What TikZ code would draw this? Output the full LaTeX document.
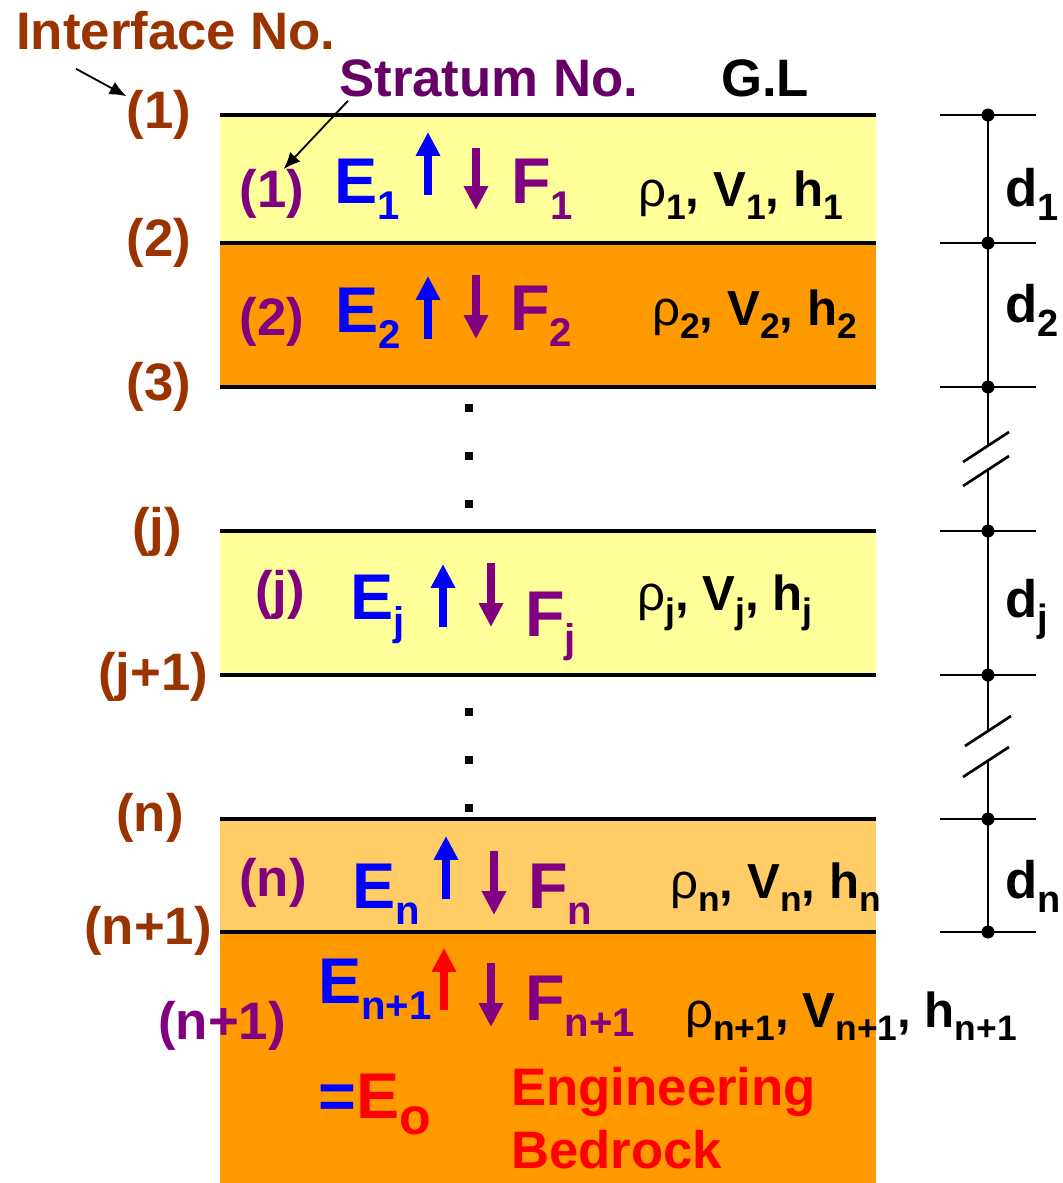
\documentclass[tikz,border=0pt]{standalone}
\usepackage{fontspec}
\setmainfont{Liberation Sans}
\usepackage{graphicx}
\usetikzlibrary{arrows.meta}

\definecolor{ifbrown}{HTML}{993300}
\definecolor{stpurple}{HTML}{800080}
\definecolor{hdpurple}{HTML}{660066}
\definecolor{soilyel}{HTML}{FFFF99}
\definecolor{soilorg}{HTML}{FF9900}
\definecolor{soillt}{HTML}{FFCC66}

% lowered indices: big E/F, and the property row
\newcommand{\lo}[1]{\raisebox{-.25em}{\scalebox{.62}{#1}}}
\newcommand{\lp}[1]{\raisebox{-.28em}{\scalebox{.72}{#1}}}
\newcommand{\rh}{{\mdseries ρ}}

\begin{document}
\begin{tikzpicture}[
  x=0.025cm, y=-0.025cm,
  lbl/.style={inner sep=0pt, font=\fontsize{37.5}{40}\selectfont\bfseries},
  iflbl/.style={lbl, text=ifbrown},
  stlbl/.style={lbl, text=stpurple},
  ef/.style={inner sep=0pt, anchor=base west, font=\fontsize{46}{50}\selectfont\bfseries},
  prop/.style={inner sep=0pt, anchor=base west, font=\fontsize{35}{40}\selectfont\bfseries},
  iface/.style={line width=2.5pt},
  tick/.style={line width=1.9pt},
  uparr/.style={line width=5.3pt, -{Triangle[width=16.4pt,length=17pt]}, blue},
  dnarr/.style={uparr, stpurple},
  ptr/.style={line width=1.3pt, -{Latex[length=12pt,width=10pt]}}
]
  \useasboundingbox (0,0) rectangle (1063,1183);

  % strata
  \fill[soilyel] (220,115) rectangle (876,243);
  \fill[soilorg] (220,243) rectangle (876,387);
  \fill[soilyel] (220,531) rectangle (876,675);
  \fill[soillt] (220,819) rectangle (876,932);
  \fill[soilorg] (220,932) rectangle (876,1183);
  \draw[iface] (220,115) -- (876,115) (220,243) -- (876,243) (220,387) -- (876,387)
    (220,531) -- (876,531) (220,675) -- (876,675) (220,819) -- (876,819) (220,932) -- (876,932);

  % vertical dots
  \fill (465,404) rectangle +(8,8);
  \fill (465,452) rectangle +(8,8);
  \fill (465,500) rectangle +(8,8);
  \fill (465,708) rectangle +(8,8);
  \fill (465,756) rectangle +(8,8);
  \fill (465,804) rectangle +(8,8);

  % depth scale
  \draw[tick] (940,115) -- (1036,115) (940,243) -- (1036,243) (940,387) -- (1036,387)
    (940,531) -- (1036,531) (940,675) -- (1036,675) (940,819) -- (1036,819) (940,932) -- (1036,932);
  \draw[tick] (988,115) -- (988,447) (988,471) -- (988,731) (988,762) -- (988,932);
  \draw[tick] (963,462) -- (1009,432) (963,486) -- (1009,456)
    (965,746) -- (1011,716) (963,777) -- (1009,747);
  \fill (988,115) circle (6.5) (988,243) circle (6.5) (988,387) circle (6.5)
    (988,531) circle (6.5) (988,675) circle (6.5) (988,819) circle (6.5) (988,932) circle (6.5);
  \node[lbl, anchor=base west] (d1) at (1005,206) {d\lp{1}};
  \node[lbl, anchor=base west] (d2) at (1005,322) {d\lp{2}};
  \node[lbl, anchor=base west] (dj) at (1005,617) {d\lp{j}};
  \node[lbl, anchor=base west] (dn) at (1005,898) {d\lp{n}};

  % headings
  \node[lbl, anchor=base west, text=ifbrown] (ifno) at (16,50) {Interface No.};
  \node[lbl, anchor=base west, text=hdpurple] (stno) at (339,97) {Stratum No.};
  \node[lbl, anchor=base west] (gl) at (721,97) {G.L};

  % interface numbers
  \node[iflbl] (if1) at (159,115) {(1)};
  \node[iflbl] (if2) at (159,243) {(2)};
  \node[iflbl] (if3) at (159,387) {(3)};
  \node[iflbl] (ifj) at (157,532) {(j)};
  \node[iflbl] (ifj1) at (153,677) {(j+1)};
  \node[iflbl] (ifn) at (150,818) {(n)};
  \node[iflbl] (ifn1) at (148,931) {(n+1)};

  % stratum 1
  \node[stlbl] (st1) at (272,194) {(1)};
  \node[ef, text=blue] (e1) at (334,203) {E\lo{1}};
  \draw[uparr] (428,195) -- (428,132);
  \draw[dnarr] (476,148) -- (476,210);
  \node[ef, text=stpurple] (f1) at (511,203) {F\lo{1}};
  \node[prop] (p1) at (638,206) {\rh\lp{1}, V\lp{1}, h\lp{1}};

  % stratum 2
  \node[stlbl] (st2) at (272,322) {(2)};
  \node[ef, text=blue] (e2) at (335,332) {E\lo{2}};
  \draw[uparr] (428,339) -- (428,276);
  \draw[dnarr] (476,275) -- (476,339);
  \node[ef, text=stpurple] (f2) at (510,330) {F\lo{2}};
  \node[prop] (p2) at (652,325) {\rh\lp{2}, V\lp{2}, h\lp{2}};

  % stratum j
  \node[stlbl] (stj) at (280,595) {(j)};
  \node[ef, text=blue] (ej) at (350,619) {E\lo{j}};
  \draw[uparr] (443,627) -- (443,564);
  \draw[dnarr] (491,563) -- (491,627);
  \node[ef, text=stpurple] (fj) at (525,636) {F\lo{j}};
  \node[prop] (pj) at (637,610) {\rh\lp{j}, V\lp{j}, h\lp{j}};

  % stratum n
  \node[stlbl] (stn) at (273,883) {(n)};
  \node[ef, text=blue] (en) at (352,908) {E\lo{n}};
  \draw[uparr] (446,899) -- (446,836);
  \draw[dnarr] (494,851) -- (494,915);
  \node[ef, text=stpurple] (fn) at (528,908) {F\lo{n}};
  \node[prop] (pn) at (670,898) {\rh\lp{n}, V\lp{n}, h\lp{n}};

  % bedrock
  \node[stlbl] (stn1) at (222,1026) {(n+1)};
  \node[ef, text=blue] (en1) at (318,1003) {E\lo{n+1}};
  \draw[uparr, red] (444,1010) -- (444,948);
  \draw[dnarr] (491,963) -- (491,1027);
  \node[ef, text=stpurple] (fn1) at (525,1020) {F\lo{n+1}};
  \node[prop] (pn1) at (685,1027) {\rh\lp{n+1}, V\lp{n+1}, h\lp{n+1}};
  \node[ef, text=blue] (eo) at (318,1118) {=\textcolor{red}{E\raisebox{-.25em}{\scalebox{.8}{o}}}};
  \node[lbl, anchor=base west, text=red] (eng) at (511,1105) {Engineering};
  \node[lbl, anchor=base west, text=red] (bed) at (511,1168) {Bedrock};

  % pointers
  \draw[ptr] ([shift={(60,18)}]ifno.south west) -- (if1.150);
  \draw[ptr] ([shift={(9,3)}]stno.south west) -- (st1.65);
\end{tikzpicture}
\end{document}
